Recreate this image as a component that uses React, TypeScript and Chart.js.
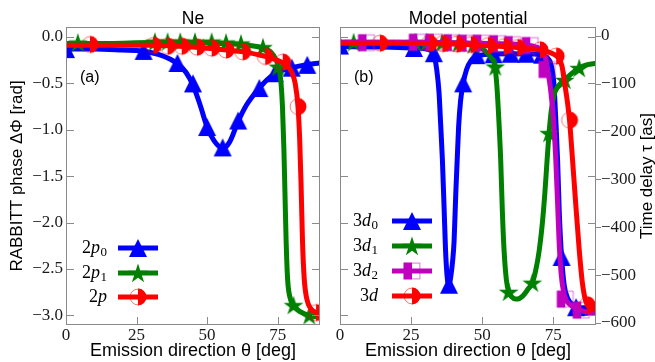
import React, { useEffect, useRef } from 'react';
import { Chart, registerables } from 'chart.js';

Chart.register(...registerables);

type Pt = [number, number];

// ---------- axis ticks ----------
const ANGLE_TICKS = [0, 25, 50, 75];
const PHASE_TICKS = [0, -0.5, -1, -1.5, -2, -2.5, -3];
const TIME_TICKS = [0, -100, -200, -300, -400, -500, -600];

// ---------- panel (a): Ne, RABBITT phase [rad] vs emission direction [deg] ----------
const NE_LABELS = ['2p_0', '2p_1', '2p'];

const NE_2P0_CURVE: Pt[] = [
  [0, -0.13], [10, -0.13], [20, -0.14], [27, -0.15], [33, -0.19], [37, -0.24], [40, -0.3],
  [42.5, -0.38], [45, -0.52], [47.5, -0.73], [50, -0.97], [52.5, -1.12], [55.5, -1.2],
  [58, -1.13], [61, -0.91], [64, -0.73], [68.5, -0.55], [72, -0.44], [75, -0.38],
  [80, -0.33], [85, -0.3], [90, -0.28],
];
const NE_2P0_MARKS: Pt[] = [
  [0, -0.13], [27.5, -0.15], [39.5, -0.28], [45, -0.5], [50, -0.97], [55.5, -1.19],
  [61, -0.9], [68.5, -0.55], [74, -0.39], [80, -0.33], [85.5, -0.3],
];

const NE_2P1_CURVE: Pt[] = [
  [0, -0.07], [15, -0.07], [30, -0.06], [45, -0.06], [55, -0.07], [62, -0.08], [67, -0.1],
  [70, -0.12], [72.5, -0.16], [74.3, -0.24], [75.5, -0.34], [76.2, -0.5], [76.7, -0.75],
  [77.2, -1.2], [77.6, -1.7], [78, -2.2], [78.5, -2.6], [79.3, -2.8], [80.6, -2.89],
  [83, -2.96], [86.2, -3.0], [90, -3.02],
];
const NE_2P1_MARKS: Pt[] = [
  [4.2, -0.06], [31.5, -0.05], [36, -0.05], [40.5, -0.05], [45.7, -0.05], [51.6, -0.05],
  [56.7, -0.06], [62, -0.07], [69.8, -0.11], [75.2, -0.32], [80.6, -2.89], [86.2, -3.0],
];

const NE_2P_CURVE: Pt[] = [
  [0, -0.09], [15, -0.09], [30, -0.09], [40, -0.1], [50, -0.12], [57, -0.14], [63, -0.16],
  [68, -0.19], [72, -0.22], [75.5, -0.26], [78, -0.3], [80, -0.38], [81.2, -0.5],
  [82.2, -0.75], [82.8, -1.1], [83.3, -1.6], [83.8, -2.2], [84.4, -2.6], [85.3, -2.82],
  [86.8, -2.93], [88.6, -2.97], [90, -2.99],
];
const NE_2P_MARKS: Pt[] = [
  [8.5, -0.08], [31, -0.09], [36, -0.1], [41, -0.1], [46.4, -0.11], [51.6, -0.12],
  [56.7, -0.14], [62.6, -0.16], [70.6, -0.21], [76.8, -0.27], [82.2, -0.75], [88.6, -2.97],
];

// ---------- panel (b): model potential, time delay [as] vs emission direction [deg] ----------
const MP_LABELS = ['3d_0', '3d_1', '3d_2', '3d'];

const MP_3D0_CURVE: Pt[] = [
  [0, -22], [15, -23], [25, -25], [30, -27], [32, -31], [33, -38], [34, -70], [34.8, -117],
  [35.4, -186], [36, -259], [36.6, -360], [37.1, -447], [37.7, -505], [38.3, -522],
  [38.9, -505], [39.6, -470], [40.1, -430], [40.7, -330], [41.2, -259], [41.7, -190],
  [42.4, -135], [43.3, -99], [44.5, -70], [46, -52], [48, -43], [52, -38], [60, -37],
  [70, -38], [72.8, -45], [74.2, -60], [75.2, -100], [75.9, -180], [76.5, -260],
  [77.1, -370], [77.9, -462], [78.8, -520], [80, -548], [82, -563], [85, -568], [90, -567],
];
const MP_3D0_MARKS: Pt[] = [
  [0, -20], [26, -25], [33, -36], [38.3, -520], [43.3, -99], [48, -40], [54, -38],
  [60, -37], [65.5, -37], [71, -39], [77.9, -462], [83, -567], [88.3, -566],
];

const MP_3D1_CURVE: Pt[] = [
  [0, -13], [20, -13], [35, -14], [45, -17], [48.5, -22], [51, -31], [53, -45], [54.4, -62],
  [55.1, -100], [55.8, -170], [56.5, -260], [57.1, -370], [57.7, -450], [58.5, -510],
  [59.3, -535], [60.5, -546], [61.8, -550], [63, -549], [64.5, -542], [66, -530],
  [67.6, -516], [68.8, -490], [70, -450], [71, -400], [72, -330], [72.8, -260],
  [73.5, -203], [74.3, -155], [75.3, -122], [76.6, -106], [78, -97], [79, -92],
  [81.5, -78], [84.1, -67], [87, -60], [90, -57],
];
const MP_3D1_MARKS: Pt[] = [
  [4.8, -13], [26.5, -13], [30.5, -13], [35.9, -14], [41.7, -15], [46.9, -18],
  [54.6, -64], [59.3, -535], [67.6, -516], [73.5, -203], [79, -92], [84.1, -67],
];

const MP_3D2_CURVE: Pt[] = [
  [0, -13], [20, -13], [40, -14], [55, -16], [65, -19], [69, -23], [71, -30], [72.2, -45],
  [73, -70], [74, -110], [75, -170], [75.8, -250], [76.5, -350], [77.1, -440], [77.8, -500],
  [78.6, -535], [79.5, -552], [81, -562], [83, -570], [86, -576], [90, -580],
];
const MP_3D2_MARKS: Pt[] = [
  [9.3, -14], [27.2, -13], [33, -13], [39.3, -14], [44.5, -15], [49.7, -15], [55.5, -16],
  [60.7, -18], [66.9, -20], [72.8, -70], [79.2, -550], [84.8, -573],
];

const MP_3D_CURVE: Pt[] = [
  [0, -15], [20, -15], [40, -17], [50, -20], [60, -23], [65, -26], [70, -29], [74, -35],
  [76.5, -44], [78, -62], [79, -100], [80, -140], [80.7, -176], [81.5, -238], [82.8, -345],
  [84.1, -447], [85.2, -516], [86, -545], [86.9, -562], [88, -569], [90, -573],
];
const MP_3D_MARKS: Pt[] = [
  [14, -15], [31.4, -15], [36, -16], [41, -17], [46, -18], [52, -20], [57.6, -22],
  [62.4, -24], [70.3, -29], [76, -42], [80.7, -176], [86.9, -562],
];

// ---------- styling ----------
const SANS = '"Liberation Sans", Arial, Helvetica, sans-serif';
const SERIF = '"Liberation Serif", "Times New Roman", serif';
const BLUE = '#0000ff';
const GREEN = '#008000';
const MAGENTA = '#bf00bf';
const RED = '#ff0000';
const FRAME = '#8a8a8a';
const TICK_TEXT = '#1a1a1a';
const TIME_TITLE = 'Time delay \u03c4 [as]';

function markerCanvas(kind: string, color: string, alt: string): HTMLCanvasElement {
  const s = 24;
  const c = document.createElement('canvas');
  c.width = s;
  c.height = s;
  const g = c.getContext('2d') as CanvasRenderingContext2D;
  const m = s / 2;
  if (kind === 'triangle') {
    const h = 9;
    g.beginPath();
    g.moveTo(m, m - h);
    g.lineTo(m + h, m + h);
    g.lineTo(m - h, m + h);
    g.closePath();
    g.fillStyle = color;
    g.fill();
  } else if (kind === 'star') {
    const R = 10.4;
    const r = R * 0.382;
    g.beginPath();
    for (let i = 0; i < 10; i++) {
      const rad = i % 2 === 0 ? R : r;
      const a = -Math.PI / 2 + (i * Math.PI) / 5;
      const x = m + rad * Math.cos(a);
      const y = m + 0.9 + rad * Math.sin(a);
      if (i === 0) g.moveTo(x, y);
      else g.lineTo(x, y);
    }
    g.closePath();
    g.fillStyle = color;
    g.fill();
  } else if (kind === 'halfCircle') {
    const r = 8.4;
    g.beginPath();
    g.arc(m, m, r, -Math.PI / 2, Math.PI / 2);
    g.closePath();
    g.fillStyle = color;
    g.fill();
    g.beginPath();
    g.arc(m, m, r - 0.5, 0, 2 * Math.PI);
    g.strokeStyle = alt;
    g.lineWidth = 1;
    g.stroke();
  } else if (kind === 'halfSquare') {
    const h = 8.4;
    g.fillStyle = color;
    g.fillRect(m - h, m - h, h, 2 * h);
    g.strokeStyle = alt;
    g.lineWidth = 1;
    g.strokeRect(m - h + 0.5, m - h + 0.5, 2 * h - 1, 2 * h - 1);
  }
  return c;
}

function seriesSets(curve: Pt[], marks: Pt[], color: string, marker: HTMLCanvasElement, order: number, yAxisID: string) {
  return [
    {
      type: 'line',
      data: curve,
      yAxisID,
      borderColor: color,
      backgroundColor: color,
      borderWidth: 5,
      pointRadius: 0,
      cubicInterpolationMode: 'monotone',
      fill: false,
      clip: 0,
      order: order + 1,
    },
    {
      type: 'line',
      data: marks,
      yAxisID,
      showLine: false,
      pointStyle: marker,
      pointRadius: 9,
      borderColor: color,
      backgroundColor: color,
      clip: 0,
      order,
    },
  ];
}

const fmtPhase = (v: number) => (Math.abs(v) < 1e-9 ? '0.0' : (v < 0 ? '\u2212' : '') + Math.abs(v).toFixed(1));
const fmtTime = (v: number) => (Math.abs(v) < 1e-9 ? '0' : (v < 0 ? '\u2212' : '') + String(Math.abs(v)));

interface DecorOpts {
  title: string;
  panel: string;
  phaseId: string;
  timeId?: string;
  timeTitle?: string;
  labels: string[];
  colors: string[];
  markers: HTMLCanvasElement[];
  labelRight: number;
  rows: number[];
}

function drawLabel(ctx: CanvasRenderingContext2D, label: string, right: number, y: number) {
  const m = /^(\d)([a-z])(?:_(\d))?$/.exec(label);
  if (!m) return;
  const fDigit = `18px ${SERIF}`;
  const fItalic = `italic 18px ${SERIF}`;
  const fSub = `13px ${SERIF}`;
  ctx.font = fDigit;
  const w1 = ctx.measureText(m[1]).width;
  ctx.font = fItalic;
  const w2 = ctx.measureText(m[2]).width;
  let w3 = 0;
  if (m[3]) {
    ctx.font = fSub;
    w3 = ctx.measureText(m[3]).width + 0.5;
  }
  let x = right - (w1 + w2 + w3);
  const base = y + 4.5;
  ctx.textAlign = 'left';
  ctx.textBaseline = 'alphabetic';
  ctx.fillStyle = '#000';
  ctx.font = fDigit;
  ctx.fillText(m[1], x, base);
  x += w1;
  ctx.font = fItalic;
  ctx.fillText(m[2], x, base);
  x += w2 + 0.5;
  if (m[3]) {
    ctx.font = fSub;
    ctx.fillText(m[3], x, base + 3.5);
  }
}

function decorPlugin(o: DecorOpts) {
  return {
    id: 'decor',
    afterDraw(chart: any) {
      const { ctx, chartArea: a } = chart;
      const phase = chart.scales[o.phaseId];
      const xs = chart.scales.x;
      ctx.save();
      // frame
      ctx.strokeStyle = FRAME;
      ctx.lineWidth = 1;
      ctx.strokeRect(a.left + 0.5, a.top + 0.5, a.right - a.left - 1, a.bottom - a.top - 1);
      // inward phase ticks on both sides
      ctx.beginPath();
      for (const t of phase.ticks) {
        const y = Math.round(phase.getPixelForValue(t.value)) + 0.5;
        ctx.moveTo(a.left, y);
        ctx.lineTo(a.left + 8, y);
        ctx.moveTo(a.right, y);
        ctx.lineTo(a.right - 8, y);
      }
      // inward angle ticks at bottom
      for (const t of xs.ticks) {
        const x = Math.round(xs.getPixelForValue(t.value)) + 0.5;
        ctx.moveTo(x, a.bottom);
        ctx.lineTo(x, a.bottom - 8);
      }
      // outward time ticks
      if (o.timeId) {
        const ts = chart.scales[o.timeId];
        for (const t of ts.ticks) {
          const y = Math.round(ts.getPixelForValue(t.value)) + 0.5;
          ctx.moveTo(a.right, y);
          ctx.lineTo(a.right + 5, y);
        }
      }
      ctx.stroke();

      // panel title
      ctx.fillStyle = '#000';
      ctx.font = `17.5px ${SANS}`;
      ctx.textAlign = 'center';
      ctx.textBaseline = 'alphabetic';
      ctx.fillText(o.title, (a.left + a.right) / 2, 23.5);

      // right-hand axis title, reading bottom to top
      if (o.timeTitle) {
        ctx.save();
        ctx.translate(chart.width - 3, (a.top + a.bottom) / 2);
        ctx.rotate(-Math.PI / 2);
        ctx.font = `17px ${SANS}`;
        ctx.textAlign = 'center';
        ctx.textBaseline = 'alphabetic';
        ctx.fillText(o.timeTitle, 0, 0);
        ctx.restore();
      }

      // panel label
      ctx.textAlign = 'left';
      ctx.textBaseline = 'middle';
      ctx.font = `16px ${SANS}`;
      ctx.fillText(o.panel, a.left + 14, a.top + 51);

      // legend
      o.labels.forEach((label, i) => {
        const y = a.top + o.rows[i];
        ctx.strokeStyle = o.colors[i];
        ctx.lineWidth = 5;
        ctx.lineCap = 'butt';
        ctx.beginPath();
        ctx.moveTo(a.left + 52, y);
        ctx.lineTo(a.left + 92, y);
        ctx.stroke();
        const mk = o.markers[i];
        ctx.drawImage(mk, a.left + 72 - mk.width / 2, y - mk.height / 2);
        drawLabel(ctx, label, a.left + o.labelRight, y);
      });
      ctx.restore();
    },
  };
}

const tickFont = { family: SERIF, size: 17 };

function xScale() {
  return {
    type: 'linear',
    min: 0,
    max: 90,
    afterBuildTicks: (s: any) => {
      s.ticks = ANGLE_TICKS.map((v) => ({ value: v }));
    },
    ticks: { font: tickFont, color: TICK_TEXT, padding: 0, maxRotation: 0, autoSkip: false },
    grid: { display: false, drawTicks: false },
    border: { display: false },
    title: { display: true, text: 'Emission direction \u03b8 [deg]', font: { family: SANS, size: 18 }, color: '#000', padding: { top: 0, bottom: 0 } },
    afterFit: (s: any) => {
      s.height = 37;
    },
  };
}

function phaseScale(showLabels: boolean, width: number) {
  return {
    type: 'linear',
    position: 'left',
    min: -3.104,
    max: 0.108,
    afterBuildTicks: (s: any) => {
      s.ticks = PHASE_TICKS.map((v) => ({ value: v }));
    },
    ticks: { display: showLabels, callback: (v: number) => fmtPhase(v), font: tickFont, color: TICK_TEXT, padding: 3 },
    grid: { display: false, drawTicks: false },
    border: { display: false },
    title: { display: showLabels, text: 'RABBITT phase \u0394\u03a6 [rad]', font: { family: SANS, size: 17 }, color: '#000', padding: { top: 7, bottom: 0 } },
    afterFit: (s: any) => {
      s.width = width;
    },
  };
}

export default function App() {
  const leftRef = useRef<HTMLCanvasElement>(null);
  const rightRef = useRef<HTMLCanvasElement>(null);

  useEffect(() => {
    const tri = markerCanvas('triangle', BLUE, BLUE);
    const star = markerCanvas('star', GREEN, GREEN);
    const sq = markerCanvas('halfSquare', MAGENTA, 'rgba(191,0,191,0.55)');
    const circ = markerCanvas('halfCircle', RED, 'rgba(255,0,0,0.55)');

    const left = new Chart(leftRef.current as HTMLCanvasElement, {
      type: 'line',
      data: {
        datasets: [
          ...seriesSets(NE_2P0_CURVE, NE_2P0_MARKS, BLUE, tri, 7, 'y'),
          ...seriesSets(NE_2P1_CURVE, NE_2P1_MARKS, GREEN, star, 5, 'y'),
          ...seriesSets(NE_2P_CURVE, NE_2P_MARKS, RED, circ, 1, 'y'),
        ] as any,
      },
      options: {
        responsive: false,
        animation: false,
        layout: { padding: { top: 27, right: 5, left: 0, bottom: 0 } },
        plugins: { legend: { display: false }, tooltip: { enabled: false }, title: { display: false } },
        scales: {
          x: xScale(),
          y: phaseScale(true, 66),
        } as any,
      },
      plugins: [
        decorPlugin({
          title: 'Ne',
          panel: '(a)',
          phaseId: 'y',
          labels: NE_LABELS,
          colors: [BLUE, GREEN, RED],
          markers: [tri, star, circ],
          labelRight: 41,
          rows: [221, 246, 270],
        }),
      ],
    } as any);

    const right = new Chart(rightRef.current as HTMLCanvasElement, {
      type: 'line',
      data: {
        datasets: [
          ...seriesSets(MP_3D0_CURVE, MP_3D0_MARKS, BLUE, tri, 7, 'yT'),
          ...seriesSets(MP_3D1_CURVE, MP_3D1_MARKS, GREEN, star, 5, 'yT'),
          ...seriesSets(MP_3D2_CURVE, MP_3D2_MARKS, MAGENTA, sq, 3, 'yT'),
          ...seriesSets(MP_3D_CURVE, MP_3D_MARKS, RED, circ, 1, 'yT'),
        ] as any,
      },
      options: {
        responsive: false,
        animation: false,
        layout: { padding: { top: 27, right: 0, left: 0, bottom: 0 } },
        plugins: { legend: { display: false }, tooltip: { enabled: false }, title: { display: false } },
        scales: {
          x: xScale(),
          yP: phaseScale(false, 7),
          yT: {
            type: 'linear',
            position: 'right',
            min: -604.2,
            max: 18.8,
            afterBuildTicks: (s: any) => {
              s.ticks = TIME_TICKS.map((v) => ({ value: v }));
            },
            ticks: { callback: (v: number) => fmtTime(v), font: tickFont, color: TICK_TEXT, padding: 5 },
            grid: { display: false, drawTicks: false },
            border: { display: false },
            title: { display: false },
            afterFit: (s: any) => {
              s.width = 59;
            },
          },
        } as any,
      },
      plugins: [
        decorPlugin({
          title: 'Model potential',
          panel: '(b)',
          phaseId: 'yP',
          timeId: 'yT',
          timeTitle: TIME_TITLE,
          labels: MP_LABELS,
          colors: [BLUE, GREEN, MAGENTA, RED],
          markers: [tri, star, sq, circ],
          labelRight: 38,
          rows: [194, 219, 244, 269],
        }),
      ],
    } as any);

    return () => {
      left.destroy();
      right.destroy();
    };
  }, []);

  return (
    <div style={{ position: 'absolute', left: 0, top: 0, width: 655, height: 362, background: '#fff' }}>
      <canvas ref={leftRef} width={330} height={362} style={{ position: 'absolute', left: 0, top: 0 }} />
      <canvas ref={rightRef} width={325} height={362} style={{ position: 'absolute', left: 330, top: 0 }} />
    </div>
  );
}
